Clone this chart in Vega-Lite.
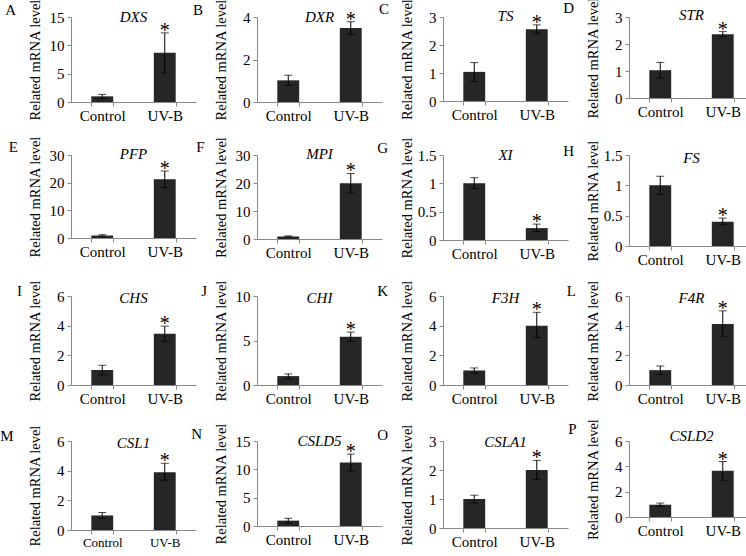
{
  "$schema": "https://vega.github.io/schema/vega-lite/v6.json",
  "padding": {"left": 0, "top": -4, "right": 0, "bottom": 0},
  "background": "white",
  "data": {"values": [
    {"gene": "DXS", "group": "Control", "mean": 1.0, "lo": 0.65, "hi": 1.35, "sig": ""},
    {"gene": "DXS", "group": "UV-B", "mean": 8.7, "lo": 5.1, "hi": 12.2, "sig": "*"},
    {"gene": "DXR", "group": "Control", "mean": 1.02, "lo": 0.78, "hi": 1.26, "sig": ""},
    {"gene": "DXR", "group": "UV-B", "mean": 3.48, "lo": 3.18, "hi": 3.78, "sig": "*"},
    {"gene": "TS", "group": "Control", "mean": 1.04, "lo": 0.7, "hi": 1.37, "sig": ""},
    {"gene": "TS", "group": "UV-B", "mean": 2.56, "lo": 2.42, "hi": 2.72, "sig": "*"},
    {"gene": "STR", "group": "Control", "mean": 1.03, "lo": 0.74, "hi": 1.32, "sig": ""},
    {"gene": "STR", "group": "UV-B", "mean": 2.36, "lo": 2.27, "hi": 2.46, "sig": "*"},
    {"gene": "PFP", "group": "Control", "mean": 0.9, "lo": 0.6, "hi": 1.2, "sig": ""},
    {"gene": "PFP", "group": "UV-B", "mean": 21.2, "lo": 18.2, "hi": 24.2, "sig": "*"},
    {"gene": "MPI", "group": "Control", "mean": 0.9, "lo": 0.7, "hi": 1.1, "sig": ""},
    {"gene": "MPI", "group": "UV-B", "mean": 19.9, "lo": 16.4, "hi": 23.4, "sig": "*"},
    {"gene": "XI", "group": "Control", "mean": 1.0, "lo": 0.91, "hi": 1.1, "sig": ""},
    {"gene": "XI", "group": "UV-B", "mean": 0.21, "lo": 0.15, "hi": 0.28, "sig": "*"},
    {"gene": "FS", "group": "Control", "mean": 1.0, "lo": 0.85, "hi": 1.15, "sig": ""},
    {"gene": "FS", "group": "UV-B", "mean": 0.4, "lo": 0.35, "hi": 0.46, "sig": "*"},
    {"gene": "CHS", "group": "Control", "mean": 1.01, "lo": 0.68, "hi": 1.33, "sig": ""},
    {"gene": "CHS", "group": "UV-B", "mean": 3.46, "lo": 2.95, "hi": 3.97, "sig": "*"},
    {"gene": "CHI", "group": "Control", "mean": 1.0, "lo": 0.72, "hi": 1.25, "sig": ""},
    {"gene": "CHI", "group": "UV-B", "mean": 5.42, "lo": 4.9, "hi": 5.95, "sig": "*"},
    {"gene": "F3H", "group": "Control", "mean": 0.98, "lo": 0.8, "hi": 1.15, "sig": ""},
    {"gene": "F3H", "group": "UV-B", "mean": 4.0, "lo": 3.2, "hi": 4.9, "sig": "*"},
    {"gene": "F4R", "group": "Control", "mean": 1.0, "lo": 0.7, "hi": 1.28, "sig": ""},
    {"gene": "F4R", "group": "UV-B", "mean": 4.12, "lo": 3.28, "hi": 5.0, "sig": "*"},
    {"gene": "CSL1", "group": "Control", "mean": 0.98, "lo": 0.78, "hi": 1.18, "sig": ""},
    {"gene": "CSL1", "group": "UV-B", "mean": 3.9, "lo": 3.35, "hi": 4.5, "sig": "*"},
    {"gene": "CSLD5", "group": "Control", "mean": 0.95, "lo": 0.5, "hi": 1.35, "sig": ""},
    {"gene": "CSLD5", "group": "UV-B", "mean": 11.2, "lo": 9.7, "hi": 12.7, "sig": "*"},
    {"gene": "CSLA1", "group": "Control", "mean": 1.0, "lo": 0.86, "hi": 1.13, "sig": ""},
    {"gene": "CSLA1", "group": "UV-B", "mean": 2.0, "lo": 1.67, "hi": 2.33, "sig": "*"},
    {"gene": "CSLD2", "group": "Control", "mean": 0.97, "lo": 0.85, "hi": 1.1, "sig": ""},
    {"gene": "CSLD2", "group": "UV-B", "mean": 3.65, "lo": 2.9, "hi": 4.38, "sig": "*"}
  ]},
  "columns": 4,
  "spacing": {"row": 12, "column": -5},
  "concat": [
    {"title": {"text": "A", "orient": "left", "angle": 0, "anchor": "end", "frame": "bounds", "fontStyle": "normal", "offset": 0, "dy": 4, "align": "right", "baseline": "top"},
     "hconcat": [{"width": 125, "height": 85, "title": "DXS", "transform": [{"filter": "datum.gene === 'DXS'"}],
      "encoding": {"x": {"field": "group", "type": "nominal", "title": null, "sort": ["Control", "UV-B"], "scale": {"paddingInner": 0.65, "paddingOuter": 0.325}, "axis": {"labelAngle": 0}}},
      "layer": [
        {"mark": "bar", "encoding": {"y": {"field": "mean", "type": "quantitative", "title": "Related mRNA level", "scale": {"domain": [0, 15], "nice": false}, "axis": {"values": [0, 5, 10, 15]}}}},
        {"mark": {"type": "errorbar", "ticks": {"size": 8}, "color": "#000"}, "encoding": {"y": {"field": "lo", "type": "quantitative", "title": "Related mRNA level", "axis": {"values": [0, 5, 10, 15]}}, "y2": {"field": "hi"}}},
        {"mark": {"type": "text", "fontSize": 20, "dy": 4, "baseline": "alphabetic"}, "encoding": {"y": {"field": "hi", "type": "quantitative", "title": "Related mRNA level", "axis": {"values": [0, 5, 10, 15]}}, "text": {"field": "sig"}}}
      ]}]},
    {"title": {"text": "B", "orient": "left", "angle": 0, "anchor": "end", "frame": "bounds", "fontStyle": "normal", "offset": 0, "dy": 4, "align": "right", "baseline": "top"},
     "hconcat": [{"width": 125, "height": 85, "title": "DXR", "transform": [{"filter": "datum.gene === 'DXR'"}],
      "encoding": {"x": {"field": "group", "type": "nominal", "title": null, "sort": ["Control", "UV-B"], "scale": {"paddingInner": 0.65, "paddingOuter": 0.325}, "axis": {"labelAngle": 0}}},
      "layer": [
        {"mark": "bar", "encoding": {"y": {"field": "mean", "type": "quantitative", "title": "Related mRNA level", "scale": {"domain": [0, 4], "nice": false}, "axis": {"values": [0, 2, 4]}}}},
        {"mark": {"type": "errorbar", "ticks": {"size": 8}, "color": "#000"}, "encoding": {"y": {"field": "lo", "type": "quantitative", "title": "Related mRNA level", "axis": {"values": [0, 2, 4]}}, "y2": {"field": "hi"}}},
        {"mark": {"type": "text", "fontSize": 20, "dy": 4, "baseline": "alphabetic"}, "encoding": {"y": {"field": "hi", "type": "quantitative", "title": "Related mRNA level", "axis": {"values": [0, 2, 4]}}, "text": {"field": "sig"}}}
      ]}]},
    {"title": {"text": "C", "orient": "left", "angle": 0, "anchor": "end", "frame": "bounds", "fontStyle": "normal", "offset": 0, "dy": 4, "align": "right", "baseline": "top"},
     "hconcat": [{"width": 125, "height": 84, "title": "TS", "transform": [{"filter": "datum.gene === 'TS'"}],
      "encoding": {"x": {"field": "group", "type": "nominal", "title": null, "sort": ["Control", "UV-B"], "scale": {"paddingInner": 0.65, "paddingOuter": 0.325}, "axis": {"labelAngle": 0}}},
      "layer": [
        {"mark": "bar", "encoding": {"y": {"field": "mean", "type": "quantitative", "title": "Related mRNA level", "scale": {"domain": [0, 3], "nice": false}, "axis": {"values": [0, 1, 2, 3]}}}},
        {"mark": {"type": "errorbar", "ticks": {"size": 8}, "color": "#000"}, "encoding": {"y": {"field": "lo", "type": "quantitative", "title": "Related mRNA level", "axis": {"values": [0, 1, 2, 3]}}, "y2": {"field": "hi"}}},
        {"mark": {"type": "text", "fontSize": 20, "dy": 4, "baseline": "alphabetic"}, "encoding": {"y": {"field": "hi", "type": "quantitative", "title": "Related mRNA level", "axis": {"values": [0, 1, 2, 3]}}, "text": {"field": "sig"}}}
      ]}]},
    {"title": {"text": "D", "orient": "left", "angle": 0, "anchor": "end", "frame": "bounds", "fontStyle": "normal", "offset": 0, "dy": 4, "align": "right", "baseline": "top"},
     "hconcat": [{"width": 125, "height": 81, "title": "STR", "transform": [{"filter": "datum.gene === 'STR'"}],
      "encoding": {"x": {"field": "group", "type": "nominal", "title": null, "sort": ["Control", "UV-B"], "scale": {"paddingInner": 0.65, "paddingOuter": 0.325}, "axis": {"labelAngle": 0}}},
      "layer": [
        {"mark": "bar", "encoding": {"y": {"field": "mean", "type": "quantitative", "title": "Related mRNA level", "scale": {"domain": [0, 3], "nice": false}, "axis": {"values": [0, 1, 2, 3]}}}},
        {"mark": {"type": "errorbar", "ticks": {"size": 8}, "color": "#000"}, "encoding": {"y": {"field": "lo", "type": "quantitative", "title": "Related mRNA level", "axis": {"values": [0, 1, 2, 3]}}, "y2": {"field": "hi"}}},
        {"mark": {"type": "text", "fontSize": 20, "dy": 4, "baseline": "alphabetic"}, "encoding": {"y": {"field": "hi", "type": "quantitative", "title": "Related mRNA level", "axis": {"values": [0, 1, 2, 3]}}, "text": {"field": "sig"}}}
      ]}]},
    {"title": {"text": "E", "orient": "left", "angle": 0, "anchor": "end", "frame": "bounds", "fontStyle": "normal", "offset": 0, "dy": 4, "align": "right", "baseline": "top"},
     "hconcat": [{"width": 125, "height": 83, "title": "PFP", "transform": [{"filter": "datum.gene === 'PFP'"}],
      "encoding": {"x": {"field": "group", "type": "nominal", "title": null, "sort": ["Control", "UV-B"], "scale": {"paddingInner": 0.65, "paddingOuter": 0.325}, "axis": {"labelAngle": 0}}},
      "layer": [
        {"mark": "bar", "encoding": {"y": {"field": "mean", "type": "quantitative", "title": "Related mRNA level", "scale": {"domain": [0, 30], "nice": false}, "axis": {"values": [0, 10, 20, 30]}}}},
        {"mark": {"type": "errorbar", "ticks": {"size": 8}, "color": "#000"}, "encoding": {"y": {"field": "lo", "type": "quantitative", "title": "Related mRNA level", "axis": {"values": [0, 10, 20, 30]}}, "y2": {"field": "hi"}}},
        {"mark": {"type": "text", "fontSize": 20, "dy": 4, "baseline": "alphabetic"}, "encoding": {"y": {"field": "hi", "type": "quantitative", "title": "Related mRNA level", "axis": {"values": [0, 10, 20, 30]}}, "text": {"field": "sig"}}}
      ]}]},
    {"title": {"text": "F", "orient": "left", "angle": 0, "anchor": "end", "frame": "bounds", "fontStyle": "normal", "offset": 0, "dy": 4, "align": "right", "baseline": "top"},
     "hconcat": [{"width": 125, "height": 84, "title": "MPI", "transform": [{"filter": "datum.gene === 'MPI'"}],
      "encoding": {"x": {"field": "group", "type": "nominal", "title": null, "sort": ["Control", "UV-B"], "scale": {"paddingInner": 0.65, "paddingOuter": 0.325}, "axis": {"labelAngle": 0}}},
      "layer": [
        {"mark": "bar", "encoding": {"y": {"field": "mean", "type": "quantitative", "title": "Related mRNA level", "scale": {"domain": [0, 30], "nice": false}, "axis": {"values": [0, 10, 20, 30]}}}},
        {"mark": {"type": "errorbar", "ticks": {"size": 8}, "color": "#000"}, "encoding": {"y": {"field": "lo", "type": "quantitative", "title": "Related mRNA level", "axis": {"values": [0, 10, 20, 30]}}, "y2": {"field": "hi"}}},
        {"mark": {"type": "text", "fontSize": 20, "dy": 4, "baseline": "alphabetic"}, "encoding": {"y": {"field": "hi", "type": "quantitative", "title": "Related mRNA level", "axis": {"values": [0, 10, 20, 30]}}, "text": {"field": "sig"}}}
      ]}]},
    {"title": {"text": "G", "orient": "left", "angle": 0, "anchor": "end", "frame": "bounds", "fontStyle": "normal", "offset": 0, "dy": 4, "align": "right", "baseline": "top"},
     "hconcat": [{"width": 125, "height": 85, "title": "XI", "transform": [{"filter": "datum.gene === 'XI'"}],
      "encoding": {"x": {"field": "group", "type": "nominal", "title": null, "sort": ["Control", "UV-B"], "scale": {"paddingInner": 0.65, "paddingOuter": 0.325}, "axis": {"labelAngle": 0}}},
      "layer": [
        {"mark": "bar", "encoding": {"y": {"field": "mean", "type": "quantitative", "title": "Related mRNA level", "scale": {"domain": [0, 1.5], "nice": false}, "axis": {"values": [0, 0.5, 1, 1.5], "format": "~g"}}}},
        {"mark": {"type": "errorbar", "ticks": {"size": 8}, "color": "#000"}, "encoding": {"y": {"field": "lo", "type": "quantitative", "title": "Related mRNA level", "axis": {"values": [0, 0.5, 1, 1.5], "format": "~g"}}, "y2": {"field": "hi"}}},
        {"mark": {"type": "text", "fontSize": 20, "dy": 4, "baseline": "alphabetic"}, "encoding": {"y": {"field": "hi", "type": "quantitative", "title": "Related mRNA level", "axis": {"values": [0, 0.5, 1, 1.5], "format": "~g"}}, "text": {"field": "sig"}}}
      ]}]},
    {"title": {"text": "H", "orient": "left", "angle": 0, "anchor": "end", "frame": "bounds", "fontStyle": "normal", "offset": 0, "dy": 4, "align": "right", "baseline": "top"},
     "hconcat": [{"width": 125, "height": 91, "title": "FS", "transform": [{"filter": "datum.gene === 'FS'"}],
      "encoding": {"x": {"field": "group", "type": "nominal", "title": null, "sort": ["Control", "UV-B"], "scale": {"paddingInner": 0.65, "paddingOuter": 0.325}, "axis": {"labelAngle": 0}}},
      "layer": [
        {"mark": "bar", "encoding": {"y": {"field": "mean", "type": "quantitative", "title": "Related mRNA level", "scale": {"domain": [0, 1.5], "nice": false}, "axis": {"values": [0, 0.5, 1, 1.5], "format": "~g"}}}},
        {"mark": {"type": "errorbar", "ticks": {"size": 8}, "color": "#000"}, "encoding": {"y": {"field": "lo", "type": "quantitative", "title": "Related mRNA level", "axis": {"values": [0, 0.5, 1, 1.5], "format": "~g"}}, "y2": {"field": "hi"}}},
        {"mark": {"type": "text", "fontSize": 20, "dy": 4, "baseline": "alphabetic"}, "encoding": {"y": {"field": "hi", "type": "quantitative", "title": "Related mRNA level", "axis": {"values": [0, 0.5, 1, 1.5], "format": "~g"}}, "text": {"field": "sig"}}}
      ]}]},
    {"title": {"text": "I", "orient": "left", "angle": 0, "anchor": "end", "frame": "bounds", "fontStyle": "normal", "offset": 0, "dy": 4, "align": "right", "baseline": "top"},
     "hconcat": [{"width": 125, "height": 89, "title": "CHS", "transform": [{"filter": "datum.gene === 'CHS'"}],
      "encoding": {"x": {"field": "group", "type": "nominal", "title": null, "sort": ["Control", "UV-B"], "scale": {"paddingInner": 0.65, "paddingOuter": 0.325}, "axis": {"labelAngle": 0}}},
      "layer": [
        {"mark": "bar", "encoding": {"y": {"field": "mean", "type": "quantitative", "title": "Related mRNA level", "scale": {"domain": [0, 6], "nice": false}, "axis": {"values": [0, 2, 4, 6]}}}},
        {"mark": {"type": "errorbar", "ticks": {"size": 8}, "color": "#000"}, "encoding": {"y": {"field": "lo", "type": "quantitative", "title": "Related mRNA level", "axis": {"values": [0, 2, 4, 6]}}, "y2": {"field": "hi"}}},
        {"mark": {"type": "text", "fontSize": 20, "dy": 4, "baseline": "alphabetic"}, "encoding": {"y": {"field": "hi", "type": "quantitative", "title": "Related mRNA level", "axis": {"values": [0, 2, 4, 6]}}, "text": {"field": "sig"}}}
      ]}]},
    {"title": {"text": "J", "orient": "left", "angle": 0, "anchor": "end", "frame": "bounds", "fontStyle": "normal", "offset": 0, "dy": 4, "align": "right", "baseline": "top"},
     "hconcat": [{"width": 125, "height": 89, "title": "CHI", "transform": [{"filter": "datum.gene === 'CHI'"}],
      "encoding": {"x": {"field": "group", "type": "nominal", "title": null, "sort": ["Control", "UV-B"], "scale": {"paddingInner": 0.65, "paddingOuter": 0.325}, "axis": {"labelAngle": 0}}},
      "layer": [
        {"mark": "bar", "encoding": {"y": {"field": "mean", "type": "quantitative", "title": "Related mRNA level", "scale": {"domain": [0, 10], "nice": false}, "axis": {"values": [0, 5, 10]}}}},
        {"mark": {"type": "errorbar", "ticks": {"size": 8}, "color": "#000"}, "encoding": {"y": {"field": "lo", "type": "quantitative", "title": "Related mRNA level", "axis": {"values": [0, 5, 10]}}, "y2": {"field": "hi"}}},
        {"mark": {"type": "text", "fontSize": 20, "dy": 4, "baseline": "alphabetic"}, "encoding": {"y": {"field": "hi", "type": "quantitative", "title": "Related mRNA level", "axis": {"values": [0, 5, 10]}}, "text": {"field": "sig"}}}
      ]}]},
    {"title": {"text": "K", "orient": "left", "angle": 0, "anchor": "end", "frame": "bounds", "fontStyle": "normal", "offset": 0, "dy": 4, "align": "right", "baseline": "top"},
     "hconcat": [{"width": 125, "height": 89, "title": "F3H", "transform": [{"filter": "datum.gene === 'F3H'"}],
      "encoding": {"x": {"field": "group", "type": "nominal", "title": null, "sort": ["Control", "UV-B"], "scale": {"paddingInner": 0.65, "paddingOuter": 0.325}, "axis": {"labelAngle": 0}}},
      "layer": [
        {"mark": "bar", "encoding": {"y": {"field": "mean", "type": "quantitative", "title": "Related mRNA level", "scale": {"domain": [0, 6], "nice": false}, "axis": {"values": [0, 2, 4, 6]}}}},
        {"mark": {"type": "errorbar", "ticks": {"size": 8}, "color": "#000"}, "encoding": {"y": {"field": "lo", "type": "quantitative", "title": "Related mRNA level", "axis": {"values": [0, 2, 4, 6]}}, "y2": {"field": "hi"}}},
        {"mark": {"type": "text", "fontSize": 20, "dy": 4, "baseline": "alphabetic"}, "encoding": {"y": {"field": "hi", "type": "quantitative", "title": "Related mRNA level", "axis": {"values": [0, 2, 4, 6]}}, "text": {"field": "sig"}}}
      ]}]},
    {"title": {"text": "L", "orient": "left", "angle": 0, "anchor": "end", "frame": "bounds", "fontStyle": "normal", "offset": 0, "dy": 4, "align": "right", "baseline": "top"},
     "hconcat": [{"width": 125, "height": 89, "title": "F4R", "transform": [{"filter": "datum.gene === 'F4R'"}],
      "encoding": {"x": {"field": "group", "type": "nominal", "title": null, "sort": ["Control", "UV-B"], "scale": {"paddingInner": 0.65, "paddingOuter": 0.325}, "axis": {"labelAngle": 0}}},
      "layer": [
        {"mark": "bar", "encoding": {"y": {"field": "mean", "type": "quantitative", "title": "Related mRNA level", "scale": {"domain": [0, 6], "nice": false}, "axis": {"values": [0, 2, 4, 6]}}}},
        {"mark": {"type": "errorbar", "ticks": {"size": 8}, "color": "#000"}, "encoding": {"y": {"field": "lo", "type": "quantitative", "title": "Related mRNA level", "axis": {"values": [0, 2, 4, 6]}}, "y2": {"field": "hi"}}},
        {"mark": {"type": "text", "fontSize": 20, "dy": 4, "baseline": "alphabetic"}, "encoding": {"y": {"field": "hi", "type": "quantitative", "title": "Related mRNA level", "axis": {"values": [0, 2, 4, 6]}}, "text": {"field": "sig"}}}
      ]}]},
    {"title": {"text": "M", "orient": "left", "angle": 0, "anchor": "end", "frame": "bounds", "fontStyle": "normal", "offset": 0, "dy": 4, "align": "right", "baseline": "top"},
     "hconcat": [{"width": 125, "height": 89, "title": "CSL1", "transform": [{"filter": "datum.gene === 'CSL1'"}],
      "encoding": {"x": {"field": "group", "type": "nominal", "title": null, "sort": ["Control", "UV-B"], "scale": {"paddingInner": 0.65, "paddingOuter": 0.325}, "axis": {"labelAngle": 0, "labelFontSize": 13}}},
      "layer": [
        {"mark": "bar", "encoding": {"y": {"field": "mean", "type": "quantitative", "title": "Related mRNA level", "scale": {"domain": [0, 6], "nice": false}, "axis": {"values": [0, 2, 4, 6]}}}},
        {"mark": {"type": "errorbar", "ticks": {"size": 8}, "color": "#000"}, "encoding": {"y": {"field": "lo", "type": "quantitative", "title": "Related mRNA level", "axis": {"values": [0, 2, 4, 6]}}, "y2": {"field": "hi"}}},
        {"mark": {"type": "text", "fontSize": 20, "dy": 4, "baseline": "alphabetic"}, "encoding": {"y": {"field": "hi", "type": "quantitative", "title": "Related mRNA level", "axis": {"values": [0, 2, 4, 6]}}, "text": {"field": "sig"}}}
      ]}]},
    {"title": {"text": "N", "orient": "left", "angle": 0, "anchor": "end", "frame": "bounds", "fontStyle": "normal", "offset": 0, "dy": 4, "align": "right", "baseline": "top"},
     "hconcat": [{"width": 125, "height": 85, "title": "CSLD5", "transform": [{"filter": "datum.gene === 'CSLD5'"}],
      "encoding": {"x": {"field": "group", "type": "nominal", "title": null, "sort": ["Control", "UV-B"], "scale": {"paddingInner": 0.65, "paddingOuter": 0.325}, "axis": {"labelAngle": 0}}},
      "layer": [
        {"mark": "bar", "encoding": {"y": {"field": "mean", "type": "quantitative", "title": "Related mRNA level", "scale": {"domain": [0, 15], "nice": false}, "axis": {"values": [0, 5, 10, 15]}}}},
        {"mark": {"type": "errorbar", "ticks": {"size": 8}, "color": "#000"}, "encoding": {"y": {"field": "lo", "type": "quantitative", "title": "Related mRNA level", "axis": {"values": [0, 5, 10, 15]}}, "y2": {"field": "hi"}}},
        {"mark": {"type": "text", "fontSize": 20, "dy": 4, "baseline": "alphabetic"}, "encoding": {"y": {"field": "hi", "type": "quantitative", "title": "Related mRNA level", "axis": {"values": [0, 5, 10, 15]}}, "text": {"field": "sig"}}}
      ]}]},
    {"title": {"text": "O", "orient": "left", "angle": 0, "anchor": "end", "frame": "bounds", "fontStyle": "normal", "offset": 0, "dy": 4, "align": "right", "baseline": "top"},
     "hconcat": [{"width": 125, "height": 87, "title": "CSLA1", "transform": [{"filter": "datum.gene === 'CSLA1'"}],
      "encoding": {"x": {"field": "group", "type": "nominal", "title": null, "sort": ["Control", "UV-B"], "scale": {"paddingInner": 0.65, "paddingOuter": 0.325}, "axis": {"labelAngle": 0}}},
      "layer": [
        {"mark": "bar", "encoding": {"y": {"field": "mean", "type": "quantitative", "title": "Related mRNA level", "scale": {"domain": [0, 3], "nice": false}, "axis": {"values": [0, 1, 2, 3]}}}},
        {"mark": {"type": "errorbar", "ticks": {"size": 8}, "color": "#000"}, "encoding": {"y": {"field": "lo", "type": "quantitative", "title": "Related mRNA level", "axis": {"values": [0, 1, 2, 3]}}, "y2": {"field": "hi"}}},
        {"mark": {"type": "text", "fontSize": 20, "dy": 4, "baseline": "alphabetic"}, "encoding": {"y": {"field": "hi", "type": "quantitative", "title": "Related mRNA level", "axis": {"values": [0, 1, 2, 3]}}, "text": {"field": "sig"}}}
      ]}]},
    {"title": {"text": "P", "orient": "left", "angle": 0, "anchor": "end", "frame": "bounds", "fontStyle": "normal", "offset": 0, "dy": 4, "align": "right", "baseline": "top"},
     "hconcat": [{"width": 125, "height": 76, "title": "CSLD2", "transform": [{"filter": "datum.gene === 'CSLD2'"}],
      "encoding": {"x": {"field": "group", "type": "nominal", "title": null, "sort": ["Control", "UV-B"], "scale": {"paddingInner": 0.65, "paddingOuter": 0.325}, "axis": {"labelAngle": 0}}},
      "layer": [
        {"mark": "bar", "encoding": {"y": {"field": "mean", "type": "quantitative", "title": "Related mRNA level", "scale": {"domain": [0, 6], "nice": false}, "axis": {"values": [0, 2, 4, 6]}}}},
        {"mark": {"type": "errorbar", "ticks": {"size": 8}, "color": "#000"}, "encoding": {"y": {"field": "lo", "type": "quantitative", "title": "Related mRNA level", "axis": {"values": [0, 2, 4, 6]}}, "y2": {"field": "hi"}}},
        {"mark": {"type": "text", "fontSize": 20, "dy": 4, "baseline": "alphabetic"}, "encoding": {"y": {"field": "hi", "type": "quantitative", "title": "Related mRNA level", "axis": {"values": [0, 2, 4, 6]}}, "text": {"field": "sig"}}}
      ]}]}
  ],
  "config": {
    "view": {"stroke": null},
    "font": "Liberation Serif",
    "bar": {"color": "#262626"},
    "text": {"color": "#000", "font": "Liberation Serif"},
    "title": {"font": "Liberation Serif", "fontSize": 15, "fontStyle": "italic", "fontWeight": "normal", "color": "#000", "offset": -26},
    "style": {
      "guide-label": {"font": "Liberation Serif", "fontSize": 15, "fill": "#000"},
      "guide-title": {"font": "Liberation Serif", "fontSize": 14.5, "fontWeight": "normal", "fill": "#000"}
    },
    "axis": {"labelFont": "Liberation Serif", "labelFontSize": 15, "labelColor": "#000", "titleFont": "Liberation Serif", "titleFontSize": 14.5, "titleFontWeight": "normal", "titleColor": "#000", "domainColor": "#888888", "tickColor": "#888888", "tickSize": 4, "grid": false, "labelOverlap": false},
    "axisX": {"labelPadding": 2, "tickBand": "extent"},
    "axisY": {"labelPadding": 3, "titlePadding": 5, "minExtent": 24, "maxExtent": 24}
  }
}
